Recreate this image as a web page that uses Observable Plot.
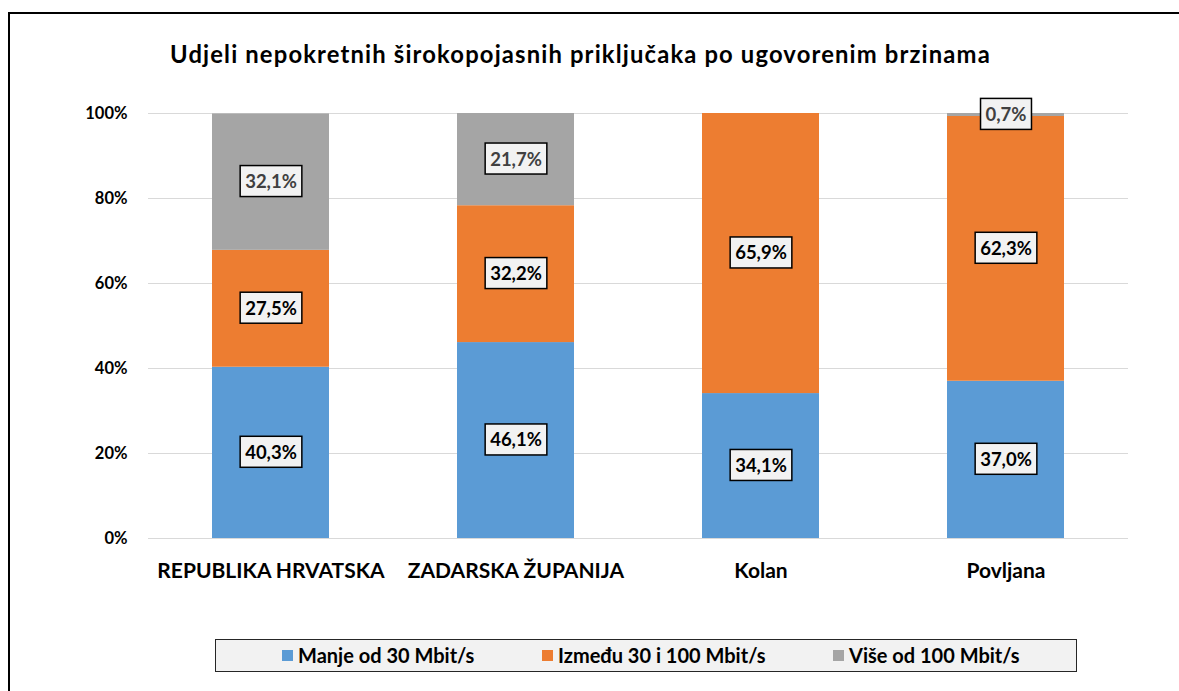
<!DOCTYPE html>
<html><head><meta charset="utf-8">
<script src="https://cdn.jsdelivr.net/npm/d3@7"></script>
<script src="https://cdn.jsdelivr.net/npm/@observablehq/plot@0.6"></script>
<style>
html,body{margin:0;padding:0;background:#fff;overflow:hidden;width:1179px;height:691px;}
#wrap{position:relative;width:1179px;height:691px;font-family:Lato,"Open Sans",sans-serif;overflow:hidden;}
#frame{position:absolute;left:8px;top:12px;width:1300px;height:800px;border:2px solid #000;box-sizing:border-box;}
#title{position:absolute;left:170px;top:39px;font-weight:700;font-size:23.8px;letter-spacing:1.15px;white-space:nowrap;color:#000;line-height:30px;}
#chart{position:absolute;left:0;top:0;}
#legend{position:absolute;left:215px;top:639px;width:862px;height:33px;box-sizing:border-box;background:#F2F2F2;border:1.5px solid #262626;}
.li{position:absolute;top:0;height:30px;display:flex;align-items:center;font-weight:700;font-size:20px;white-space:nowrap;color:#000;}
.sw{display:inline-block;width:11px;height:11px;margin-right:5px;}
</style></head>
<body>
<div id="wrap">
  <div id="frame"></div>
  <div id="chart"></div>
  <div id="title">Udjeli nepokretnih širokopojasnih priključaka po ugovorenim brzinama</div>
  <div id="legend"></div>
</div>
<script>
const regions = ["REPUBLIKA HRVATSKA", "ZADARSKA ŽUPANIJA", "Kolan", "Povljana"];
const series = ["Manje od 30 Mbit/s", "Između 30 i 100 Mbit/s", "Više od 100 Mbit/s"];
const seriesColors = ["#5B9BD5", "#ED7D31", "#A5A5A5"];
const below30 = [40.3, 46.1, 34.1, 37.0];
const from30to100 = [27.5, 32.2, 65.9, 62.3];
const above100 = [32.1, 21.7, 0, 0.7];
const yTicks = [0, 20, 40, 60, 80, 100];
const yTickLabels = ["0%", "20%", "40%", "60%", "80%", "100%"];
const legendX = [66, 326, 617];

const seriesValues = [below30, from30to100, above100];
const data = [];
regions.forEach((r, i) => {
  series.forEach((s, j) => data.push({region: r, series: s, value: seriesValues[j][i]}));
});
const fmt = v => v.toFixed(1).replace(".", ",") + "%";

const chart = Plot.plot({
  width: 1179,
  height: 600,
  marginLeft: 148,
  marginRight: 51,
  marginTop: 113,
  marginBottom: 62,
  style: {fontFamily: "Lato, 'Open Sans', sans-serif", color: "#000", background: "transparent"},
  x: {domain: regions, paddingInner: 0.522, paddingOuter: 0.261, label: null},
  y: {domain: [0, 100], label: null},
  color: {domain: series, range: seriesColors},
  marks: [
    Plot.ruleY(yTicks, {stroke: "#D9D9D9", strokeWidth: 1.2}),
    Plot.barY(data, {x: "region", y: "value", fill: "series", order: series}),
    Plot.text(data, Plot.stackY({
      x: "region", y: "value", z: "series", order: series,
      filter: d => d.value > 0,
      text: d => fmt(d.value),
      fill: d => d.series === series[2] ? "#404040" : "#000",
      fontWeight: "bold", fontSize: 18.5, className: "lbl"
    })),
    Plot.axisY(yTicks, {tickSize: 0, tickPadding: 21, tickFormat: d => yTickLabels[yTicks.indexOf(d)], fontSize: 16.5, fontWeight: "bold", label: null}),
    Plot.axisX({tickSize: 0, tickPadding: 25, fontSize: 21, fontWeight: "bold", label: null})
  ]
});
document.getElementById("chart").appendChild(chart);

// boxes behind data labels
d3.select(chart).selectAll("g.lbl text").each(function() {
  const b = this.getBBox();
  const ns = "http://www.w3.org/2000/svg";
  const rect = document.createElementNS(ns, "rect");
  const w = b.width + 10, h = 31;
  rect.setAttribute("x", b.x + b.width / 2 - w / 2);
  rect.setAttribute("y", b.y + b.height / 2 - h / 2);
  rect.setAttribute("width", w);
  rect.setAttribute("height", h);
  rect.setAttribute("fill", "#F2F2F2");
  rect.setAttribute("stroke", "#000");
  rect.setAttribute("stroke-width", 1.5);
  const t = this.getAttribute("transform");
  if (t) rect.setAttribute("transform", t);
  this.parentNode.insertBefore(rect, this);
});

// legend
const lg = d3.select("#legend");
series.forEach((s, i) => {
  const it = lg.append("div").attr("class", "li").style("left", legendX[i] + "px");
  it.append("span").attr("class", "sw").style("background", seriesColors[i]);
  it.append("span").text(s);
});
</script>
</body></html>
